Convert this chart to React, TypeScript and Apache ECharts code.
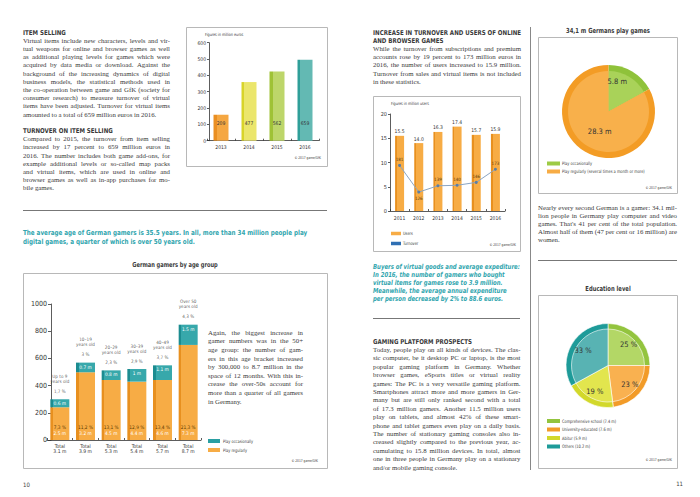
import React, { useEffect, useRef } from "react";
import * as echarts from "echarts";

// ---------- DATA ----------
const itemYears = ["2013", "2014", "2015", "2016"];
const itemBarHeights = [159, 359, 424, 496];
const itemLabels = ["209", "477", "562", "659"];

const userYears = ["2011", "2012", "2013", "2014", "2015", "2016"];
const userValues = [15.5, 14.0, 16.3, 17.4, 15.7, 15.9];
const turnoverValues = [181, 126, 139, 140, 146, 173];

const ageGroups = ["Up to 9\nyears old", "10–19\nyears old", "20–29\nyears old", "30–39\nyears old", "40–49\nyears old", "Over 50\nyears old"];
const ageOccPct = ["1,7 %", "3 %", "2,3 %", "2,9 %", "3,7 %", "4,3 %"];
const ageRegPct = ["7,3 %", "11,2 %", "13,1 %", "12,9 %", "13,4 %", "21,3 %"];
const ageRegM = ["2.5 m", "3.2 m", "4.5 m", "4.4 m", "4.6 m", "7.3 m"];
const ageOccM = ["0.6 m", "0.7 m", "0.8 m", "1 m", "1.1 m", "1.5 m"];
const ageTotals = ["3.1 m", "3.9 m", "5.3 m", "5.4 m", "5.7 m", "8.7 m"];
const ageRegular = [240, 498, 441, 429, 441, 699];
const ageOccasional = [59, 71, 71, 93, 108, 149];

const playNames = ["Play occasionally", "Play regularly (several times a month or more)"];
const playValues = [5.8, 28.3];
const playLabels = ["5.8 m", "28.3 m"];

const eduNames = ["Comprehensive school (7.4 m)", "University-educated (7.6 m)", "Abitur (5.9 m)", "Others (10.2 m)"];
const eduValues = [25, 23, 19, 33];
const eduLabels = ["25 %", "23 %", "19 %", "33 %"];

const itemSellingText = [
  "Virtual items include new characters, levels and vir-",
  "tual weapons for online and browser games as well",
  "as additional playing levels for games which were",
  "acquired by data media or download. Against the",
  "background of the increasing dynamics of digital",
  "business models, the statistical methods used in",
  "the co-operation between game and GfK (society for",
  "consumer research) to measure turnover of virtual",
  "items have been adjusted. Turnover for virtual items",
  "amounted to a total of 659 million euros in 2016.",
];
const turnoverItemText = [
  "Compared to 2015, the turnover from item selling",
  "increased by 17 percent to 659 million euros in",
  "2016. The number includes both game add-ons, for",
  "example additional levels or so-called map packs",
  "and virtual items, which are used in online and",
  "browser games as well as in-app purchases for mo-",
  "bile games.",
];
const onlineText = [
  "While the turnover from subscriptions and premium",
  "accounts rose by 19 percent to 173 million euros in",
  "2016, the number of users increased to 15.9 million.",
  "Turnover from sales and virtual items is not included",
  "in these statistics.",
];
const gamerText = [
  "Nearly every second German is a gamer: 34.1 mil-",
  "lion people in Germany play computer and video",
  "games. That's 41 per cent of the total population.",
  "Almost half of them (47 per cent or 16 million) are",
  "women.",
];
const buyersText = [
  "Buyers of virtual goods and average expediture:",
  "In 2016, the number of gamers who bought",
  "virtual items for games rose to 3.9 million.",
  "Meanwhile, the average annual expenditure",
  "per person decreased by 2% to 88.6 euros.",
];
const platformText = [
  "Today, people play on all kinds of devices. The clas-",
  "sic computer, be it desktop PC or laptop, is the most",
  "popular gaming platform in Germany. Whether",
  "browser games, eSports titles or virtual reality",
  "games: The PC is a very versatile gaming platform.",
  "Smartphones attract more and more gamers in Ger-",
  "many but are still only ranked second with a total",
  "of 17.3 million gamers. Another 11.5 million users",
  "play on tablets, and almost 42% of these smart-",
  "phone and tablet gamers even play on a daily basis.",
  "The number of stationary gaming consoles also in-",
  "creased slightly compared to the previous year, ac-",
  "cumulating to 15.8 million devices. In total, almost",
  "one in three people in Germany play on a stationary",
  "and/or mobile gaming console.",
];
const ageText = [
  "Again, the biggest increase in",
  "gamer numbers was in the 50+",
  "age group: the number of gam-",
  "ers in this age bracket increased",
  "by 300,000 to 8.7 million in the",
  "space of 12 months. With this in-",
  "crease the over-50s account for",
  "more than a quarter of all gamers",
  "in Germany.",
];
const tealLead = [
  "The average age of German gamers is 35.5 years. In all, more than 34 million people play",
  "digital games, a quarter of which is over 50 years old.",
];

// ---------- STYLE ----------
const SERIF = "'Liberation Serif', 'DejaVu Serif', serif";
const NARROW = "'Liberation Sans Narrow', 'DejaVu Sans Condensed', 'Liberation Sans', sans-serif";
const TEXT = "#3a3a3a";
const TEAL_TXT = "#30a5ae";
const ORANGE = "#f7ac45";
const ORANGE_D = "#e8901f";

const edge = (dark: string, light: string, f = 0.2) =>
  new echarts.graphic.LinearGradient(0, 0, 1, 0, [
    { offset: 0, color: dark },
    { offset: f, color: dark },
    { offset: f, color: light },
    { offset: 1, color: light },
  ]);

const itemColors = [
  ["#ea8f22", "#f5a742"],
  ["#d8d42a", "#ebe66c"],
  ["#9fc236", "#bdd66a"],
  ["#2f9f99", "#63b9b3"],
];
const eduLight = ["#b3d766", "#f9b150", "#e2e54e", "#58b3b3"];
const eduDark = ["#93c43e", "#f29b28", "#d2d82b", "#1e9b99"];

function buildOption() {
  const ctx = document.createElement("canvas").getContext("2d") as CanvasRenderingContext2D;
  const fontStr = (size: number, o: any) =>
    `${o.italic ? "italic " : ""}${o.bold ? "bold " : ""}${size}px ${o.family || SERIF}`;
  const measure = (s: string, font: string) => {
    ctx.font = font;
    return ctx.measureText(s).width;
  };

  const T = (text: string, x: number, y: number, size: number, o: any = {}) => ({
    type: "text",
    x,
    y,
    z: 100,
    silent: true,
    scaleX: o.sx || 1,
    style: {
      text,
      fill: o.fill || TEXT,
      font: fontStr(size, o),
      textAlign: o.align || "left",
      align: o.align || "left",
      textVerticalAlign: "middle",
      verticalAlign: "middle",
    },
  });
  const fitScale = (s: string, size: number, o: any, width: number) => width / measure(s, fontStr(size, o));
  const lines = (arr: string[], x: number, y0: number, dy: number, size: number, o: any = {}) =>
    arr.map((s, i) => T(s, x, y0 + i * dy, size, o));

  const justify = (arr: string[], x: number, y0: number, dy: number, width: number, size: number, last: number[], o: any = {}) => {
    const font = fontStr(size, o);
    const space = measure(" ", font);
    const out: any[] = [];
    arr.forEach((line, i) => {
      const y = y0 + i * dy;
      const natural = measure(line, font);
      if (last.indexOf(i) >= 0) {
        const sx = natural > width ? width / natural : 1;
        out.push(T(line, x, y, size, { ...o, sx }));
        return;
      }
      const words = line.split(" ");
      const ws = words.map((w) => measure(w, font));
      const total = ws.reduce((a, b) => a + b, 0);
      const gap = words.length > 1 ? (width - total) / (words.length - 1) : 0;
      if (gap < space * 0.6 || words.length < 2) {
        out.push(T(line, x, y, size, { ...o, sx: width / natural }));
        return;
      }
      let cx = x;
      words.forEach((w, j) => {
        out.push(T(w, cx, y, size, o));
        cx += ws[j] + gap;
      });
    });
    return out;
  };

  const box = (x: number, y: number, w: number, h: number) => ({
    type: "rect",
    z: 1,
    silent: true,
    shape: { x: x + 0.5, y: y + 0.5, width: w, height: h },
    style: { fill: "none", stroke: "#b8b8b8", lineWidth: 1 },
  });
  const hline = (x1: number, x2: number, y: number, color = "#777") => ({
    type: "line",
    silent: true,
    shape: { x1, y1: y + 0.5, x2, y2: y + 0.5 },
    style: { stroke: color, lineWidth: 1 },
  });
  const swatch = (x: number, y: number, w: number, h: number, color: string) => ({
    type: "rect",
    silent: true,
    z: 50,
    shape: { x, y: y - h / 2, width: w, height: h },
    style: { fill: color },
  });

  const BODY = 6.8;
  const SP = 8.2;
  const copyright = "© 2017 game/GfK";

  const HEAD: any = { bold: true, family: NARROW };
  HEAD.sx = fitScale("INCREASE IN TURNOVER AND USERS OF ONLINE", 6.6, HEAD, 148);
  const TITLE: any = { bold: true, family: NARROW, align: "center" };
  TITLE.sx = fitScale("34,1 m Germans play games", 7, TITLE, 84);
  const LEG: any = { family: NARROW };
  LEG.sx = fitScale(playNames[1], 4.6, LEG, 83);
  const SMALL: any = { family: NARROW, sx: LEG.sx };
  const COPY: any = { family: NARROW, align: "right", sx: LEG.sx };
  const LEAD: any = { bold: true, family: NARROW, fill: TEAL_TXT };
  LEAD.sx = fitScale(tealLead[0], 7, LEAD, 285);
  const BUY: any = { bold: true, italic: true, family: NARROW, fill: TEAL_TXT };
  BUY.sx = fitScale(buyersText[0], 6.9, BUY, 147);

  const graphics: any[] = [
    // left page
    T("ITEM SELLING", 23, 32, 6.6, HEAD),
    ...justify(itemSellingText, 23, 32 + SP, SP, 147, BODY, [9]),
    T("TURNOVER ON ITEM SELLING", 23, 32 + SP * 12, 6.6, HEAD),
    ...justify(turnoverItemText, 23, 32 + SP * 13, SP, 147, BODY, [6]),
    box(186, 27, 141, 139),
    T("Figures in million euros", 205, 34, 4.3, SMALL),
    T(copyright, 321, 158, 3.8, COPY),
    hline(23, 327, 210),
    ...lines(tealLead, 23, 232.5, 9.5, 7, LEAD),
    T("German gamers by age group", 175, 264, 6.8, TITLE),
    box(23, 273, 304, 195),
    ...justify(ageText, 208, 332.3, 8.6, 95, BODY, [8]),
    swatch(208, 441, 12, 4, "#2a9fa2"),
    T("Play occasionally", 223, 441, 4.6, LEG),
    swatch(208, 450, 12, 4, ORANGE),
    T("Play regularly", 223, 450, 4.6, LEG),
    T(copyright, 318, 460.5, 3.8, COPY),
    T("10", 23, 484, 6, { family: NARROW }),

    // right page
    T("INCREASE IN TURNOVER AND USERS OF ONLINE", 373, 32, 6.6, HEAD),
    T("AND BROWSER GAMES", 373, 32 + SP, 6.6, HEAD),
    ...justify(onlineText, 373, 32 + SP * 2, SP, 148, BODY, [4]),
    box(373, 96, 147, 155),
    T("Figures in million users", 391, 103.5, 4.3, SMALL),
    swatch(391, 233.5, 10, 3.5, ORANGE),
    T("Users", 403, 233.5, 4.6, LEG),
    swatch(391, 243.5, 10, 3.5, "#2f6fb3"),
    T("Turnover", 403, 243.5, 4.6, LEG),
    T(copyright, 516, 244.5, 3.8, COPY),
    ...lines(buyersText, 373, 266.5, 8.1, 6.9, BUY),
    hline(373, 520, 318),
    T("GAMING PLATFORM PROSPECTS", 373, 341, 6.6, HEAD),
    ...justify(platformText, 373, 349.4, 8.4, 147.5, BODY, [14]),

    { type: "line", silent: true, shape: { x1: 530.5, y1: 27, x2: 530.5, y2: 470 }, style: { stroke: "#888", lineWidth: 1 } },

    T("34,1 m Germans play games", 608, 31, 7, TITLE),
    box(538, 37, 139, 156),
    swatch(547, 163.5, 13, 4, "#9dcb45"),
    T(playNames[0], 562, 163.5, 4.6, LEG),
    swatch(547, 171.5, 13, 4, ORANGE),
    T(playNames[1], 562, 171.5, 4.6, LEG),
    T(copyright, 672, 187.5, 3.8, COPY),
    ...justify(gamerText, 538, 207, SP, 139, BODY, [4]),
    hline(538, 677, 260),
    T("Education level", 608, 289, 7, TITLE),
    box(538, 295, 139, 173),
    ...eduNames.map((n, i) => T(n, 562, 421 + i * 8.5, 4.6, LEG)),
    ...eduDark.map((c, i) => swatch(547, 421 + i * 8.5, 13, 4, c)),
    T(copyright, 672, 460, 3.8, COPY),
    T("11", 683, 483, 6, { family: NARROW, align: "right" }),
  ];

  const axisBase = () => ({
    axisLine: { show: true, lineStyle: { color: "#333", width: 0.8 } },
    axisTick: { show: true, length: 2, lineStyle: { color: "#333", width: 0.8 } },
    splitLine: { show: false },
  });
  const inTick = { show: true, inside: true, length: 2, lineStyle: { color: "#333", width: 0.8 } };
  const plain = (v: number) => String(v);
  const pieShift = [[-7, -3], [7, -7]];

  return {
    animation: false,
    backgroundColor: "#fff",
    textStyle: { fontFamily: NARROW },
    grid: [
      { left: 207, top: 42.7, width: 112, height: 98 },
      { left: 390, top: 114, width: 115, height: 97 },
      { left: 47, top: 304, width: 154, height: 136 },
    ],
    xAxis: [
      { gridIndex: 0, type: "category", data: itemYears, ...axisBase(), axisTick: inTick, axisLabel: { fontSize: 5, color: "#333", fontFamily: NARROW, margin: 4 } },
      { gridIndex: 1, type: "category", data: userYears, ...axisBase(), axisTick: inTick, axisLabel: { fontSize: 5, color: "#333", fontFamily: NARROW, margin: 4 } },
      { gridIndex: 2, type: "category", data: ageTotals.map((t) => "Total\n" + t), ...axisBase(), axisTick: inTick, axisLabel: { fontSize: 5, lineHeight: 5.5, color: "#333", fontFamily: NARROW, margin: 3 } },
    ],
    yAxis: [
      { gridIndex: 0, type: "value", min: 0, max: 600, interval: 100, offset: -2, ...axisBase(), axisLabel: { fontSize: 5, color: "#333", fontFamily: NARROW, margin: 3, formatter: plain } },
      { gridIndex: 1, type: "value", min: 0, max: 20, interval: 5, ...axisBase(), axisLabel: { fontSize: 5.5, color: "#333", fontFamily: NARROW, margin: 3, formatter: plain } },
      { gridIndex: 1, type: "value", min: 87, max: 287, show: false },
      { gridIndex: 2, type: "value", min: 0, max: 1000, interval: 200, offset: -4, ...axisBase(), axisTick: { show: true, length: 3, lineStyle: { color: "#333", width: 0.8 } }, axisLabel: { fontSize: 7, color: "#333", fontFamily: NARROW, margin: 4, formatter: plain } },
    ],
    series: [
      {
        type: "bar", xAxisIndex: 0, yAxisIndex: 0, barWidth: 15,
        data: itemBarHeights.map((v, i) => ({ value: v, itemStyle: { color: edge(itemColors[i][0], itemColors[i][1]) } })),
        label: { show: true, position: "insideBottom", distance: 15, fontSize: 5, color: "#333", fontFamily: NARROW, formatter: (p: any) => itemLabels[p.dataIndex] },
      },
      {
        type: "bar", xAxisIndex: 1, yAxisIndex: 1, barWidth: 9,
        itemStyle: { color: edge(ORANGE_D, ORANGE) },
        data: userValues,
        label: { show: true, position: "top", distance: 2, fontSize: 5, color: "#333", fontFamily: NARROW, formatter: (p: any) => Number(p.value).toFixed(1) },
      },
      {
        type: "line", xAxisIndex: 1, yAxisIndex: 2, z: 5,
        data: turnoverValues.map((v, i) => ({ value: v, label: { position: i === 1 ? "bottom" : "top" } })),
        symbol: "circle", symbolSize: 3,
        lineStyle: { color: "#8aa5c4", width: 1 },
        itemStyle: { color: "#5d7ea3" },
        label: { show: true, fontSize: 4.5, distance: 2, color: "#5a3a0a", fontFamily: NARROW },
      },
      {
        type: "bar", xAxisIndex: 2, yAxisIndex: 3, stack: "age", barWidth: 19,
        itemStyle: { color: edge(ORANGE_D, ORANGE, 0.14) },
        data: ageRegular,
        label: {
          show: true, position: "insideBottom", distance: 3,
          formatter: (p: any) => `{p|${ageRegPct[p.dataIndex]}}\n{m|${ageRegM[p.dataIndex]}}`,
          rich: {
            p: { fontSize: 4.8, color: "#5a3a00", fontFamily: NARROW, lineHeight: 6.5 },
            m: { fontSize: 4.8, color: "#ffffff", fontFamily: NARROW, lineHeight: 6.5 },
          },
        },
      },
      {
        type: "bar", xAxisIndex: 2, yAxisIndex: 3, stack: "age", barWidth: 19,
        itemStyle: { color: edge("#1c8c90", "#37a8ab", 0.14) },
        data: ageOccasional,
        label: { show: true, position: "insideTop", distance: 2, fontSize: 4.8, color: "#ffffff", fontFamily: NARROW, formatter: (p: any) => ageOccM[p.dataIndex] },
      },
      {
        type: "scatter", xAxisIndex: 2, yAxisIndex: 3, silent: true, symbolSize: 1,
        itemStyle: { color: "rgba(0,0,0,0)" },
        data: ageRegular.map((v, i) => v + ageOccasional[i]),
        label: {
          show: true, position: "top", distance: 5, fontSize: 4.6, lineHeight: 5, color: "#333", fontFamily: NARROW, align: "center",
          formatter: (p: any) => `${ageGroups[p.dataIndex]}\n\n${ageOccPct[p.dataIndex]}`,
        },
      },
      {
        type: "pie", center: [608.5, 111.5], radius: 46.5, startAngle: 90, clockwise: true, silent: true,
        label: { show: false }, labelLine: { show: false },
        data: playValues.map((v, i) => ({ value: v, name: playNames[i], itemStyle: { color: ["#8fc23a", "#f39c25"][i] } })),
      },
      {
        type: "pie", center: [608.5, 111.5], radius: 40.5, startAngle: 90, clockwise: true, silent: true,
        label: { show: false }, labelLine: { show: false },
        data: playValues.map((v, i) => ({ value: v, name: playNames[i], itemStyle: { color: ["#a9d259", "#f8b04b"][i] } })),
      },
      {
        type: "pie", center: [608.5, 111.5], radius: [16, 40], startAngle: 90, clockwise: true, silent: true,
        labelLine: { show: false },
        itemStyle: { color: "rgba(0,0,0,0)" },
        label: { show: true, position: "inside", fontSize: 7.5, color: "#333", fontFamily: NARROW, formatter: (p: any) => playLabels[p.dataIndex] },
        labelLayout: (p: any) => ({ dx: pieShift[p.dataIndex][0], dy: pieShift[p.dataIndex][1] }),
        data: playValues.map((v, i) => ({ value: v, name: playNames[i] + " " })),
      },
      {
        type: "pie", center: [608, 365.5], radius: 42, startAngle: 90, clockwise: true, silent: true,
        label: { show: false }, labelLine: { show: false },
        data: eduValues.map((v, i) => ({ value: v, name: eduNames[i], itemStyle: { color: eduDark[i], borderColor: "#fff", borderWidth: 0.6 } })),
      },
      {
        type: "pie", center: [608, 365.5], radius: 36.5, startAngle: 90, clockwise: true, silent: true,
        label: { show: false }, labelLine: { show: false },
        data: eduValues.map((v, i) => ({ value: v, name: eduNames[i], itemStyle: { color: eduLight[i], borderColor: "#fff", borderWidth: 0.6 } })),
      },
      {
        type: "pie", center: [608, 365.5], radius: [16, 36], startAngle: 90, clockwise: true, silent: true,
        labelLine: { show: false },
        itemStyle: { color: "rgba(0,0,0,0)" },
        label: { show: true, position: "inside", fontSize: 7.5, color: "#333", fontFamily: NARROW, formatter: (p: any) => eduLabels[p.dataIndex] },
        data: eduValues.map((v, i) => ({ value: v, name: eduNames[i] + " " })),
      },
    ],
    graphic: graphics,
  };
}

export default function App() {
  const ref = useRef<HTMLDivElement>(null);
  useEffect(() => {
    document.body.style.margin = "0";
    const chart = echarts.init(ref.current as HTMLDivElement, null, { renderer: "svg", width: 700, height: 497 });
    chart.setOption(buildOption() as any);
    return () => chart.dispose();
  }, []);
  return <div ref={ref} style={{ width: 700, height: 497, background: "#fff" }} />;
}
